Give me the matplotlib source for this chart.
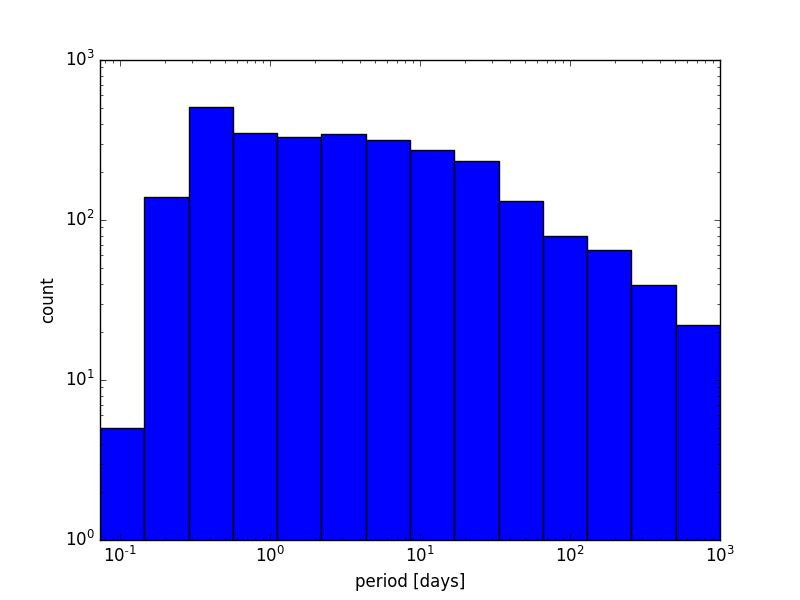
import numpy as np
import matplotlib
matplotlib.use("Agg")
import matplotlib.pyplot as plt
from matplotlib.ticker import FuncFormatter

plt.style.use("classic")

# Log-spaced bin edges (period in days) and counts per bin
bin_low = 0.0736
bin_high = 1000.0
n_bins = 14
counts = [5, 139, 506, 348, 329, 345, 314, 273, 233, 131, 80, 65, 39, 22]

edges = np.logspace(np.log10(bin_low), np.log10(bin_high), n_bins + 1)
centers = np.sqrt(edges[:-1] * edges[1:])


def log_fmt(v, pos):
    e = int(round(np.log10(v)))
    if e < 0:
        return r"$\mathdefault{10^{\text{-}%d}}$" % (-e)
    return r"$\mathdefault{10^{%d}}$" % e


fig = plt.figure(figsize=(8, 6), dpi=100)
ax = fig.add_subplot(111)
ax.hist(centers, bins=edges, weights=counts, log=True, color="blue", edgecolor="black")
ax.set_xscale("log")
ax.set_yscale("log")
ax.set_xlim(edges[0], edges[-1])
ax.set_ylim(1, 1000)
ax.xaxis.set_major_formatter(FuncFormatter(log_fmt))
ax.yaxis.set_major_formatter(FuncFormatter(log_fmt))
ax.set_xlabel("period [days]")
ax.set_ylabel("count")
fig.savefig("out.png", dpi=100)
